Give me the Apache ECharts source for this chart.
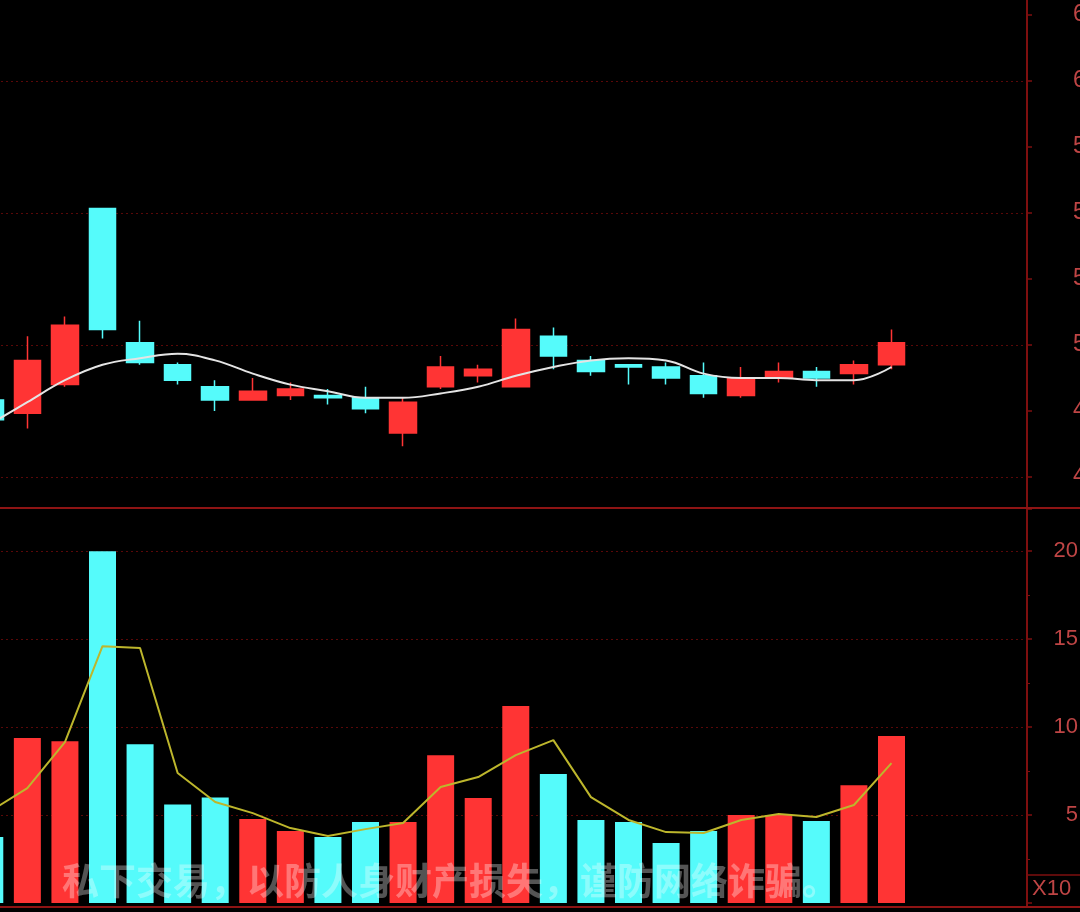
<!DOCTYPE html>
<html>
<head>
<meta charset="utf-8">
<script src="https://cdn.jsdelivr.net/npm/echarts@6/dist/echarts.min.js"></script>
<style>
  html, body { margin: 0; padding: 0; background: #000; }
  #chart { width: 1080px; height: 912px; }
</style>
</head>
<body>
<div id="chart"></div>
<script>
// Trading-day slots (the last three are still empty)
const days = ['01','02','03','04','05','06','07','08','09','10','11','12','13','14',
              '15','16','17','18','19','20','21','22','23','24','25','26','27','28'];

// Daily prices: [open, close, low, high]
const ohlc = [
  [4.75, 4.66, 4.63, 4.77],
  [4.69, 4.93, 4.62, 5.04],
  [4.82, 5.09, 4.81, 5.13],
  [5.62, 5.07, 5.03, 5.62],
  [5.01, 4.92, 4.91, 5.11],
  [4.91, 4.84, 4.82, 4.92],
  [4.81, 4.75, 4.70, 4.84],
  [4.75, 4.79, 4.75, 4.85],
  [4.77, 4.80, 4.75, 4.83],
  [4.77, 4.76, 4.73, 4.80],
  [4.76, 4.71, 4.69, 4.81],
  [4.60, 4.74, 4.54, 4.76],
  [4.81, 4.90, 4.80, 4.95],
  [4.86, 4.89, 4.83, 4.91],
  [4.81, 5.07, 4.81, 5.12],
  [5.04, 4.95, 4.89, 5.08],
  [4.93, 4.88, 4.86, 4.95],
  [4.91, 4.90, 4.82, 4.91],
  [4.90, 4.85, 4.82, 4.92],
  [4.86, 4.78, 4.76, 4.92],
  [4.77, 4.85, 4.76, 4.90],
  [4.85, 4.88, 4.83, 4.92],
  [4.88, 4.85, 4.81, 4.90],
  [4.87, 4.91, 4.82, 4.93],
  [4.91, 5.01, 4.89, 5.07]
];

// 5-day moving average of the close
const ma5 = [4.64, 4.74, 4.84, 4.91, 4.94, 4.96, 4.93, 4.87, 4.82, 4.79, 4.76, 4.76, 4.78,
             4.81, 4.86, 4.90, 4.93, 4.94, 4.93, 4.87, 4.85, 4.85, 4.84, 4.84, 4.90];

// Volume (x10 units) and its moving average
const volume = [3.75, 9.38, 9.2, 20.0, 9.03, 5.6, 6.0, 4.77, 4.1, 3.75, 4.6, 4.6, 8.4,
                5.97, 11.2, 7.33, 4.72, 4.6, 3.41, 4.1, 5.0, 5.0, 4.66, 6.7, 9.49];
const volMa = [5.2, 6.53, 9.15, 14.6, 14.5, 7.39, 5.74, 5.11, 4.26, 3.81, 4.2, 4.55, 6.6,
               7.16, 8.41, 9.26, 6.02, 4.72, 4.03, 3.98, 4.72, 5.06, 4.89, 5.57, 7.95];

// Axis ranges and tick steps
const priceAxis = { min: 4.4, max: 6.5, step: 0.3 };
const volAxis = { min: 0, max: 22.4, step: 5 };
const unitLabel = 'X10';
const notice = '私下交易，以防人身财产损失，谨防网络诈骗。';

const UP = '#ff3434';
const DOWN = '#55fbfb';
const FRAME = '#7e0f0f';
const GRID = '#5a0808';
const LABEL = '#bf4545';
const AXIS_FONT = 'Liberation Sans, DejaVu Sans, sans-serif';

const volData = volume.map((v, i) => ({
  value: v,
  itemStyle: { color: ohlc[i][1] >= ohlc[i][0] ? UP : DOWN }
}));

const chart = echarts.init(document.getElementById('chart'), null, { renderer: 'canvas' });

chart.setOption({
  backgroundColor: '#000',
  animation: false,
  grid: [
    { left: -29, right: 57, top: 15, height: 462, containLabel: false, outerBoundsMode: 'none' },
    { left: -29, right: 57, top: 509, height: 394, containLabel: false, outerBoundsMode: 'none' }
  ],
  xAxis: [
    { type: 'category', gridIndex: 0, data: days, boundaryGap: true, show: false },
    { type: 'category', gridIndex: 1, data: days, boundaryGap: true, show: false }
  ],
  yAxis: [
    {
      type: 'value', gridIndex: 0, position: 'right', offset: 4, scale: true,
      min: priceAxis.min, max: priceAxis.max, interval: priceAxis.step,
      axisLine: { show: false },
      axisTick: { show: true, length: 5, lineStyle: { color: FRAME, width: 1.5 } },
      axisLabel: {
        color: LABEL, fontSize: 23, fontFamily: AXIS_FONT,
        margin: 46, align: 'left',
        formatter: v => v.toFixed(2)
      },
      splitLine: { show: true, lineStyle: { color: [GRID, 'rgba(0,0,0,0)'], type: [2, 3], width: 1 } }
    },
    {
      type: 'value', gridIndex: 1, position: 'right', offset: 4,
      min: volAxis.min, max: volAxis.max, interval: volAxis.step,
      axisLine: { show: false },
      axisTick: { show: true, length: 5, lineStyle: { color: FRAME, width: 1.5 } },
      minorTick: { show: true, splitNumber: 2, length: 3, lineStyle: { color: FRAME } },
      axisLabel: {
        color: LABEL, fontSize: 22, fontFamily: AXIS_FONT,
        margin: 51, align: 'right', showMinLabel: false, showMaxLabel: false
      },
      splitLine: { show: true, showMinLine: false, showMaxLine: false,
                   lineStyle: { color: GRID, type: [2, 3], width: 1 } }
    }
  ],
  series: [
    {
      name: 'K', type: 'candlestick', xAxisIndex: 0, yAxisIndex: 0,
      barWidth: 27,
      data: ohlc,
      itemStyle: { color: UP, color0: DOWN, borderColor: UP, borderColor0: DOWN, borderWidth: 1.5 }
    },
    {
      name: 'MA5', type: 'line', xAxisIndex: 0, yAxisIndex: 0,
      data: ma5, smooth: 0.4, symbol: 'none',
      lineStyle: { color: '#e4e4e4', width: 2 }, z: 3
    },
    {
      name: 'VOL', type: 'bar', xAxisIndex: 1, yAxisIndex: 1,
      barWidth: 27, data: volData
    },
    {
      name: 'MAVOL', type: 'line', xAxisIndex: 1, yAxisIndex: 1,
      data: volMa, smooth: false, symbol: 'none',
      lineStyle: { color: '#bdb62c', width: 2 }, z: 3
    }
  ],
  graphic: [
    // price / volume frame
    { type: 'line', z: 100, shape: { x1: 1027, y1: 0, x2: 1027, y2: 907 }, style: { stroke: FRAME, lineWidth: 2 } },
    { type: 'line', z: 100, shape: { x1: 0, y1: 508, x2: 1080, y2: 508 }, style: { stroke: '#8e1414', lineWidth: 2 } },
    { type: 'line', z: 100, shape: { x1: 0, y1: 907, x2: 1080, y2: 907 }, style: { stroke: '#8e1414', lineWidth: 2 } },
    { type: 'line', z: 100, shape: { x1: 1027, y1: 875, x2: 1080, y2: 875 }, style: { stroke: FRAME, lineWidth: 1.5 } },
    {
      type: 'text', z: 100, left: 1032, top: 878,
      style: { text: unitLabel, fill: LABEL, fontSize: 22, fontFamily: AXIS_FONT }
    },
    {
      type: 'text', z: 101, left: 62, top: 862,
      style: {
        text: notice, fill: 'rgba(255,255,255,0.33)', fontSize: 37, fontWeight: 'bold',
        fontFamily: 'Noto Sans CJK SC, sans-serif'
      }
    }
  ]
});
</script>
</body>
</html>
